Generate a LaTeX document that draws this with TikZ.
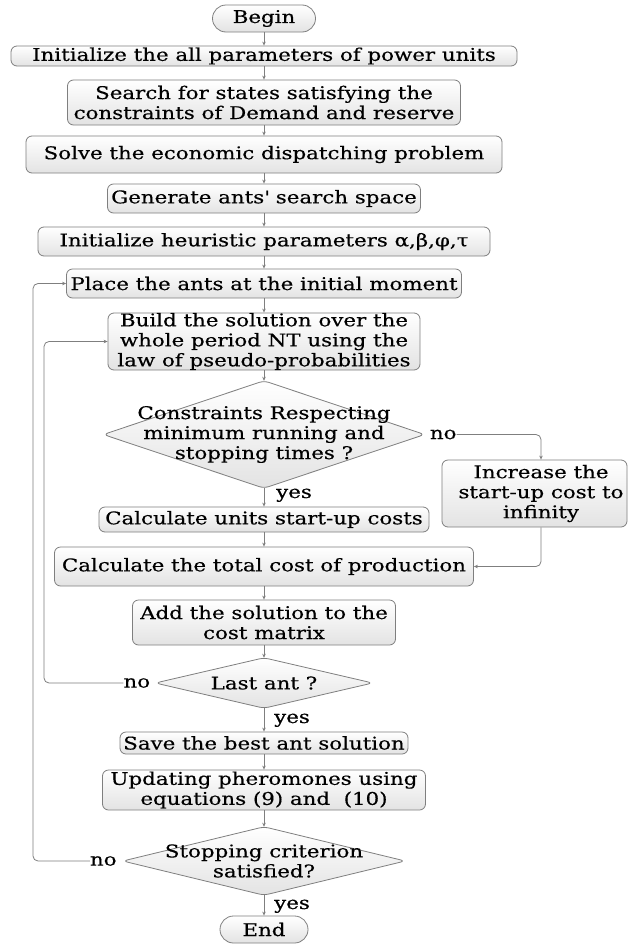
\documentclass[tikz,border=0pt]{standalone}
\usepackage{fontspec}
\setmainfont{DejaVu Serif}[FakeStretch=1.22, FakeBold=0.4]
\usetikzlibrary{arrows.meta}
\pgfdeclarelayer{background}
\pgfsetlayers{background,main}
\definecolor{linegray}{HTML}{7F7F7F}
\definecolor{shadegray}{HTML}{E3E3E3}
\tikzset{
  lbl/.style={font=\fontsize{17.5}{20}\selectfont, inner sep=0pt},
  stepbox/.style 2 args={lbl, align=center, draw=linegray, line width=0.8pt,
    rounded corners=6pt, top color=white, bottom color=shadegray,
    minimum width=#1pt, minimum height=#2pt},
  terminal/.style={stepbox={#1}{27}, rounded corners=13.5pt},
  decision/.style 2 args={lbl, align=center, minimum width=#1pt, minimum height=#2pt},
  diamondfill/.style={draw=linegray, line width=0.8pt, rounded corners=5pt,
    top color=white, bottom color=shadegray},
  conn/.style={draw=linegray, line width=0.8pt, -{Stealth[length=4pt,width=3.5pt]}},
  loop/.style={conn, rounded corners=5pt},
}
\begin{document}
\begin{tikzpicture}[x=1pt,y=-1pt]
\useasboundingbox (0,0) rectangle (628,945);

% main column of steps
\node[terminal=103] (begin) at (264,18.5) {Begin};
\node[stepbox={506}{20}] (init) at (264,56) {Initialize the all parameters of power units};
\node[stepbox={393}{45}] (search) at (264,102.5) {Search for states satisfying the\\constraints of Demand and reserve};
\node[stepbox={476}{37}] (solve) at (264,154.5) {Solve the economic dispatching problem};
\node[stepbox={313}{29}] (gen) at (264,198.5) {Generate ants\textquotesingle{} search space};
\node[stepbox={452}{29}] (heur) at (264,241.5) {Initialize heuristic parameters α,β,φ,τ};
\node[stepbox={395}{29}] (place) at (264,283.5) {Place the ants at the initial moment};
\node[stepbox={312}{57}] (build) at (264,341.5) {Build the solution over the\\whole period NT using the\\law of pseudo-probabilities};
\node[decision={321}{107}] (dec1) at (264,434.5) {Constraints Respecting\\minimum running and\\stopping times ?};
\node[stepbox={185}{67}] (incr) at (534.5,493.5) {};
\node[lbl, align=center] (incrtext) at (541,493.5) {Increase the\\start-up cost to\\infinity};
\node[stepbox={330}{25}] (units) at (264,519.5) {Calculate units start-up costs};
\node[stepbox={419}{39}] (total) at (264,566.5) {Calculate the total cost of production};
\node[stepbox={263}{45}] (add) at (264,622.5) {Add the solution to the\\cost matrix};
\node[decision={217}{50}] (dec2) at (264,683) {Last ant ?};
\node[stepbox={288}{22}] (save) at (264,743) {Save the best ant solution};
\node[stepbox={323}{40}] (upd) at (264,790) {Updating pheromones using\\equations (9) and\ \ (10)};
\node[decision={282}{68}] (dec3) at (264,861) {Stopping criterion\\satisfied?};
\node[terminal=88] (end) at (264,929.5) {End};

% decision shapes behind their texts
\begin{pgfonlayer}{background}
\fill[white] (0,0) rectangle (628,945);
\foreach \d in {dec1,dec2,dec3}
  \path[diamondfill] (\d.north) -- (\d.east) -- (\d.south) -- (\d.west) -- cycle;
\end{pgfonlayer}

% branch labels
\node[lbl, anchor=west] (no1) at ([xshift=5pt]dec1.east) {no};
\node[lbl, anchor=east] (no2) at ([xshift=-5pt]dec2.west) {no};
\node[lbl, anchor=east] (no3) at ([xshift=-6pt]dec3.west) {no};
\node[lbl, anchor=base west] (yes1) at (276,498) {yes};
\node[lbl, anchor=base west] (yes2) at (274,723) {yes};
\node[lbl, anchor=base west] (yes3) at (274,909) {yes};

% straight flow
\draw[conn] (begin) -- (init);
\draw[conn] (init) -- (search);
\draw[conn] (search) -- (solve);
\draw[conn] (solve) -- (gen);
\draw[conn] (gen) -- (heur);
\draw[conn] (heur) -- (place);
\draw[conn] (place) -- (build);
\draw[conn] (build) -- (dec1);
\draw[conn] (dec1) -- (units);
\draw[conn] (units) -- (total);
\draw[conn] (total) -- (add);
\draw[conn] (add) -- (dec2);
\draw[conn] (dec2) -- (save);
\draw[conn] (save) -- (upd);
\draw[conn] (upd) -- (dec3);
\draw[conn] (dec3) -- (end);

% side branch and loops
\coordinate (side) at (541,0);
\coordinate (inner) at (44,0);
\coordinate (outer) at (33,0);
\draw[loop] (no1.east) -| (side |- incr.north);
\draw[loop] (side |- incr.south) |- (total.east);
\draw[loop] (no2.west) -| (inner |- build.west) -- (build.west);
\draw[loop] (no3.west) -| (outer |- place.west) -- (place.west);
\end{tikzpicture}
\end{document}
